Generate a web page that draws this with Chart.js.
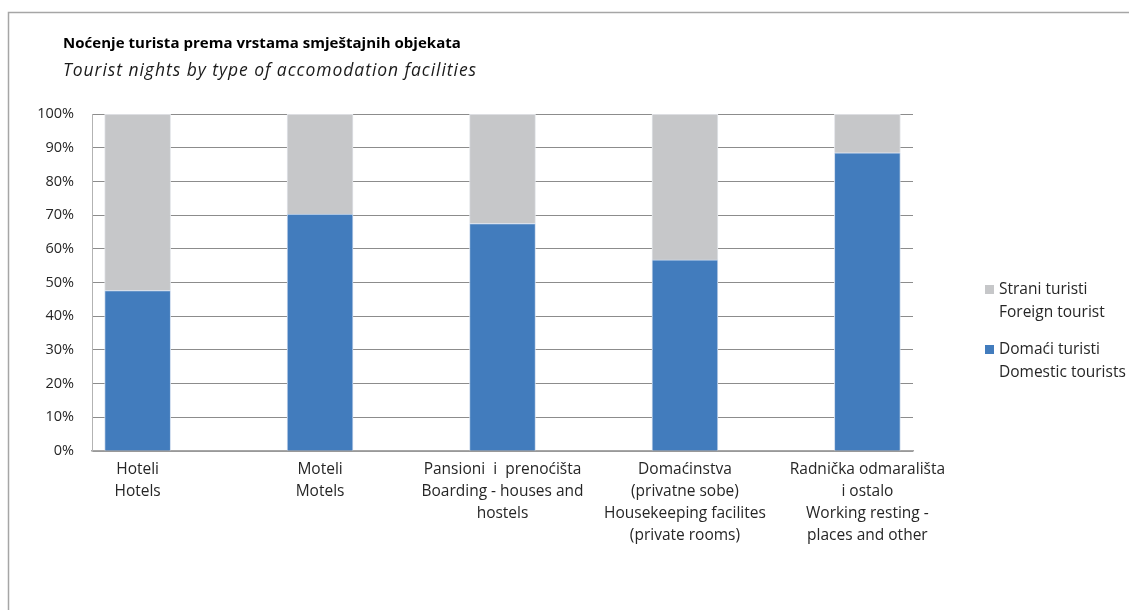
<!DOCTYPE html>
<html lang="hr">
<head>
<meta charset="UTF-8">
<title>Noćenje turista prema vrstama smještajnih objekata</title>
<script src="https://cdn.jsdelivr.net/npm/chart.js"></script>
<style>
  html, body { margin: 0; padding: 0; background: #fff; }
  #wrap { position: relative; width: 1129px; height: 610px; }
</style>
</head>
<body>
<div id="wrap"><canvas id="chart" width="1129" height="610"></canvas></div>
<script>
// categories (two-language labels, one line per entry)
const categories = [
  ['Hoteli', 'Hotels'],
  ['Moteli', 'Motels'],
  ['Pansioni  i  prenoćišta', 'Boarding - houses and', 'hostels'],
  ['Domaćinstva', '(privatne sobe)', 'Housekeeping facilites', '(private rooms)'],
  ['Radnička odmarališta', 'i ostalo', 'Working resting -', 'places and other']
];
const domestic = [47.6, 70.3, 67.5, 56.7, 88.5];
const foreign = [52.4, 29.7, 32.5, 43.3, 11.5];
const yTicks = [0, 10, 20, 30, 40, 50, 60, 70, 80, 90, 100];

const titleText = 'Noćenje turista prema vrstama smještajnih objekata';
const subtitleText = 'Tourist nights by type of accomodation facilities';
const FONT = '"Open Sans", "Liberation Sans", sans-serif';

// stretch a line of text to the width it has in the reference
function fitText(c, text, x, y, width) {
  c.letterSpacing = '0px';
  const w = c.measureText(text).width;
  const extra = (width - w) / (text.length - 1);
  c.letterSpacing = extra.toFixed(2) + 'px';
  c.fillText(text, x, y);
  c.letterSpacing = '0px';
}

const frame = {
  id: 'frame',
  beforeDraw(chart) {
    const c = chart.ctx;
    c.save();
    c.strokeStyle = '#a6a6a6';
    c.lineWidth = 1.5;
    c.beginPath();
    c.moveTo(8.5, 610);
    c.lineTo(8.5, 12.5);
    c.lineTo(1129, 12.5);
    c.stroke();
    c.fillStyle = '#000';
    c.textBaseline = 'alphabetic';
    c.font = 'bold 15px ' + FONT;
    fitText(c, titleText, 63, 48, 398);
    c.font = 'italic 17.5px ' + FONT;
    c.fillStyle = '#1a1a1a';
    fitText(c, subtitleText, 63, 76, 413);
    c.restore();
  },
  afterDraw(chart) {
    const c = chart.ctx;
    c.save();
    c.font = '15.5px ' + FONT;
    c.textBaseline = 'middle';
    const items = chart.data.datasets.slice().reverse();
    const tops = [290, 350];
    items.forEach((ds, i) => {
      const y = tops[i];
      c.fillStyle = ds.backgroundColor;
      c.fillRect(985, y - 5, 9, 9);
      c.fillStyle = '#262626';
      ds.label.forEach((line, j) => c.fillText(line, 999, y + j * 22.5));
    });
    c.restore();
  }
};

new Chart(document.getElementById('chart'), {
  type: 'bar',
  data: {
    datasets: [
      {
        label: ['Domaći turisti', 'Domestic tourists'],
        data: domestic.map((v, i) => ({ x: i, y: v })),
        backgroundColor: '#427cbd',
        borderColor: '#cfdcee',
        borderWidth: 1,
        barThickness: 66
      },
      {
        label: ['Strani turisti', 'Foreign tourist'],
        data: foreign.map((v, i) => ({ x: i, y: v })),
        backgroundColor: '#c6c7c9',
        borderColor: '#e4e6ea',
        borderWidth: 1,
        barThickness: 66
      }
    ]
  },
  options: {
    responsive: false,
    animation: false,
    layout: { padding: { left: 20, right: 216, top: 114, bottom: 60 } },
    plugins: { legend: { display: false }, tooltip: { enabled: false } },
    scales: {
      x: {
        type: 'linear',
        stacked: true,
        offset: false,
        min: -0.25,
        max: 4.25,
        afterBuildTicks: s => { s.ticks = categories.map((_, i) => ({ value: i })); },
        afterFit: s => { s.height = 99; },
        grid: { display: false, drawTicks: false, offset: false },
        border: { display: true, color: '#a6a6a6', width: 1.5 },
        ticks: {
          autoSkip: false,
          maxRotation: 0,
          padding: 8,
          color: '#262626',
          font: { family: FONT, size: 15.5, lineHeight: 1.42 },
          callback: v => categories[v]
        }
      },
      y: {
        stacked: true,
        min: 0,
        max: 100,
        afterBuildTicks: s => { s.ticks = yTicks.map(v => ({ value: v })); },
        afterFit: s => { s.width = 72; },
        grid: { color: '#8c8c8c', lineWidth: 1, drawTicks: false },
        border: { display: true, color: '#b3b3b3', width: 1 },
        ticks: {
          padding: 18,
          color: '#262626',
          font: { family: FONT, size: 14.5 },
          callback: v => v + '%'
        }
      }
    }
  },
  plugins: [frame]
});
</script>
</body>
</html>
